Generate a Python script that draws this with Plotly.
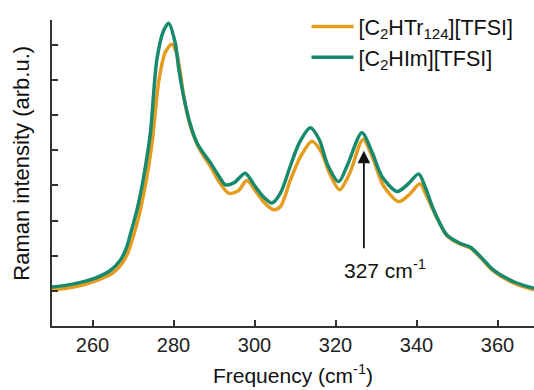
import plotly.graph_objects as go

# Frequencies (cm^-1) and intensities
freq_him = [250, 254, 258, 261, 264.4, 266.9, 268.3, 269.3, 271.0, 272.2, 273.3, 274.3, 275.9, 277.5, 278.8,
            280.4, 281.3, 282.5, 284, 285.8, 287.5, 289.1, 291, 292.8, 295, 297.7, 300, 302, 304.3,
            306.4, 308.8, 311, 313.8, 316, 318, 320.8, 323, 326.5, 329, 331.5, 335.2, 338, 340.5,
            342, 344.2, 347.5, 350.8, 353.3, 356, 359, 364, 369]
int_him = [1.11, 1.17, 1.27, 1.38, 1.58, 1.88, 2.2, 2.59, 3.31, 3.97, 4.7, 5.50, 7.59, 8.39, 8.62,
           8.07, 7.31, 6.54, 5.8, 5.21, 4.9, 4.65, 4.3, 4.02, 4.08, 4.35, 4.0, 3.7, 3.50,
           3.78, 4.54, 5.2, 5.64, 5.3, 4.6, 4.11, 4.6, 5.50, 4.95, 4.25, 3.83, 4.05, 4.33,
           4.0, 3.31, 2.59, 2.35, 2.24, 1.95, 1.59, 1.26, 1.07]

freq_htr = [250, 254, 258, 261, 264.8, 267.3, 268.8, 269.8, 271.5, 272.7, 273.8, 274.8, 276.4, 278, 279.6,
            280.8, 281.7, 282.5, 284, 285.8, 287.5, 289.1, 291, 293.6, 296, 298.1, 300.5, 302.5, 304.7,
            306.4, 309, 311.5, 314.2, 316.5, 318.5, 321.0, 323.5, 326.8, 329.3, 331.8, 335.6, 338.3, 340.8,
            342.3, 344.2, 347.5, 350.8, 353.3, 356, 359, 364, 369]
int_htr = [1.03, 1.08, 1.18, 1.29, 1.49, 1.78, 2.1, 2.45, 3.15, 3.8, 4.5, 5.3, 7.0, 7.8, 8.02,
           7.75, 7.2, 6.54, 5.75, 5.18, 4.82, 4.55, 4.15, 3.78, 3.85, 4.14, 3.8, 3.5, 3.31,
           3.40, 4.2, 4.85, 5.26, 4.95, 4.35, 3.88, 4.35, 5.31, 4.75, 4.0, 3.54, 3.75, 4.05,
           3.75, 3.28, 2.57, 2.33, 2.22, 1.92, 1.56, 1.22, 1.03]

x_ticks = [260, 280, 300, 320, 340, 360]
y_ticks = [1, 2, 3, 4, 5, 6, 7, 8]
peak_freq = 327
peak_int = 4.99

orange = "#E59C1E"
green = "#17896C"
font_family = "Liberation Sans, Arial, sans-serif"

fig = go.Figure()
fig.add_trace(go.Scatter(x=freq_htr, y=int_htr, mode="lines", line_shape="spline",
                         name="[C<sub>2</sub>HTr<sub>124</sub>][TFSI]",
                         line=dict(color=orange, width=3.5, smoothing=0.8)))
fig.add_trace(go.Scatter(x=freq_him, y=int_him, mode="lines", line_shape="spline",
                         name="[C<sub>2</sub>HIm][TFSI]",
                         line=dict(color=green, width=3.5, smoothing=0.8)))

fig.add_annotation(x=peak_freq, y=peak_int, xref="x", yref="y", text="", showarrow=True,
                   ax=0, ay=99, arrowhead=2, arrowsize=1.4, arrowwidth=1.8, arrowcolor="#111111")
fig.add_annotation(x=peak_freq, y=peak_int, xref="x", yref="y", text="327 cm<sup>-1</sup>",
                   showarrow=False, xanchor="left", yanchor="middle", xshift=-22, yshift=-118,
                   font=dict(size=21, color="#111111", family=font_family))
# y-axis title
fig.add_annotation(x=-0.064, y=0.531, xref="paper", yref="paper", text="Raman intensity (arb.u.)",
                   textangle=-90, showarrow=False, xanchor="center", yanchor="middle",
                   font=dict(size=22, color="#111111", family=font_family))

fig.update_layout(
    width=534, height=390,
    margin=dict(l=52, r=0, t=20, b=64),
    plot_bgcolor="white", paper_bgcolor="white",
    font=dict(family=font_family, color="#222222"),
    showlegend=True,
    legend=dict(x=0.528, y=1.046, xanchor="left", yanchor="top", bgcolor="rgba(0,0,0,0)",
                font=dict(size=21.5, color="#111111"), itemwidth=42, tracegroupgap=0),
    xaxis=dict(range=[250, 369], tickvals=x_ticks, ticks="inside", ticklen=6, tickwidth=1.5,
               tickcolor="#333333", showline=True, linecolor="#333333", linewidth=2,
               showgrid=False, zeroline=False, tickfont=dict(size=20, color="#222222"),
               automargin=False,
               title=dict(text="Frequency (cm<sup>-1</sup>)", font=dict(size=21, color="#111111"),
                          standoff=13)),
    yaxis=dict(range=[0, 8.71], tickvals=y_ticks, showticklabels=False, ticks="inside",
               ticklen=6, tickwidth=1.5, tickcolor="#333333", showline=True, linecolor="#333333",
               linewidth=2, showgrid=False, zeroline=False, automargin=False),
)

fig.write_html("out.html", config={"displayModeBar": False},
               post_script="document.body.style.margin='0';document.body.style.padding='0';")
